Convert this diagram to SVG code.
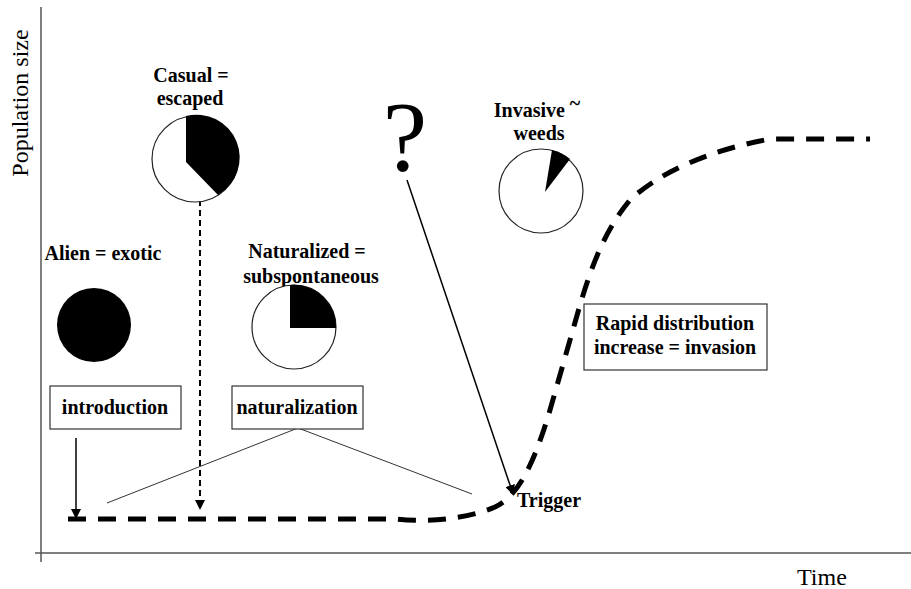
<svg xmlns="http://www.w3.org/2000/svg" width="911" height="589" viewBox="0 0 911 589">
<style>
.lbl{font-family:"Liberation Serif","Times New Roman",serif;font-weight:bold;font-size:20px;fill:#000;text-anchor:middle}
.ax{font-family:"Liberation Serif","Times New Roman",serif;font-size:24px;fill:#000}
.box{fill:#fff;stroke:#333;stroke-width:1.2}
.pie{fill:#fff;stroke:#222;stroke-width:1.2}
.axis{stroke:#555;stroke-width:1.5;fill:none}
</style>
<defs>
<marker id="ah" viewBox="0 0 10 10" refX="9" refY="5" markerWidth="10" markerHeight="10" markerUnits="userSpaceOnUse" orient="auto">
<path d="M0,0 L10,5 L0,10 Z" fill="#000"/>
</marker>
</defs>
<rect width="911" height="589" fill="#fff"/>
<g id="axes">
<line class="axis" x1="41" y1="7" x2="41" y2="562"/>
<line class="axis" x1="35" y1="553" x2="911" y2="553"/>
<text class="ax" transform="translate(28,103) rotate(-90)" text-anchor="middle">Population size</text>
<text class="ax" x="797" y="585">Time</text>
</g>
<g id="curve">
<path d="M68,519 H395 C430,523 470,518 495,507 C520,495 535,460 550,410 L580,305 C592,265 605,230 630,200 C660,172 710,150 770,139 H870" fill="none" stroke="#000" stroke-width="5" stroke-dasharray="18,12"/>
</g>
<g id="connectors">
<line x1="76" y1="438" x2="76" y2="518" stroke="#000" stroke-width="1.5" marker-end="url(#ah)"/>
<line x1="200" y1="200" x2="200" y2="509" stroke="#000" stroke-width="2" stroke-dasharray="6,4" marker-end="url(#ah)"/>
<line x1="298" y1="428" x2="107" y2="503" stroke="#333" stroke-width="1"/>
<line x1="298" y1="428" x2="472" y2="494" stroke="#333" stroke-width="1"/>
<line x1="407" y1="180" x2="513" y2="494" stroke="#000" stroke-width="1.5" marker-end="url(#ah)"/>
</g>
<g id="alien">
<text class="lbl" x="103" y="260">Alien = exotic</text>
<circle cx="94" cy="325" r="37" fill="#000"/>
</g>
<g id="casual">
<text class="lbl" x="191" y="82">Casual =</text>
<text class="lbl" x="190" y="105">escaped</text>
<circle class="pie" cx="195" cy="159" r="43"/>
<path d="M186,162 L186,116 A43,43 0 0 1 218,195 Z" fill="#000"/>
</g>
<g id="naturalized">
<text class="lbl" x="307" y="258">Naturalized =</text>
<text class="lbl" x="311" y="283">subspontaneous</text>
<circle class="pie" cx="294" cy="327" r="42"/>
<path d="M290,328 L290,285 A42,42 0 0 1 336,328 Z" fill="#000"/>
</g>
<g id="invasive">
<text class="lbl" x="537" y="117">Invasive <tspan dy="-7">~</tspan></text>
<text class="lbl" x="539" y="140">weeds</text>
<circle class="pie" cx="541" cy="191" r="42"/>
<path d="M545,192 L552,150 A42,42 0 0 1 570,159 Z" fill="#000"/>
</g>
<g id="question">
<text x="405" y="170" font-family="Liberation Serif,serif" font-size="100" text-anchor="middle" fill="#000">?</text>
</g>
<g id="introduction">
<rect class="box" x="50" y="386" width="131" height="43"/>
<text class="lbl" x="115" y="414">introduction</text>
</g>
<g id="naturalization">
<rect class="box" x="232" y="386" width="131" height="43"/>
<text class="lbl" x="297" y="414">naturalization</text>
</g>
<g id="rapid">
<rect class="box" x="584" y="304" width="183" height="66"/>
<text class="lbl" x="675" y="330">Rapid distribution</text>
<text class="lbl" x="675" y="354">increase = invasion</text>
</g>
<g id="trigger">
<text class="lbl" x="517" y="507" text-anchor="start" style="text-anchor:start">Trigger</text>
</g>
</svg>
